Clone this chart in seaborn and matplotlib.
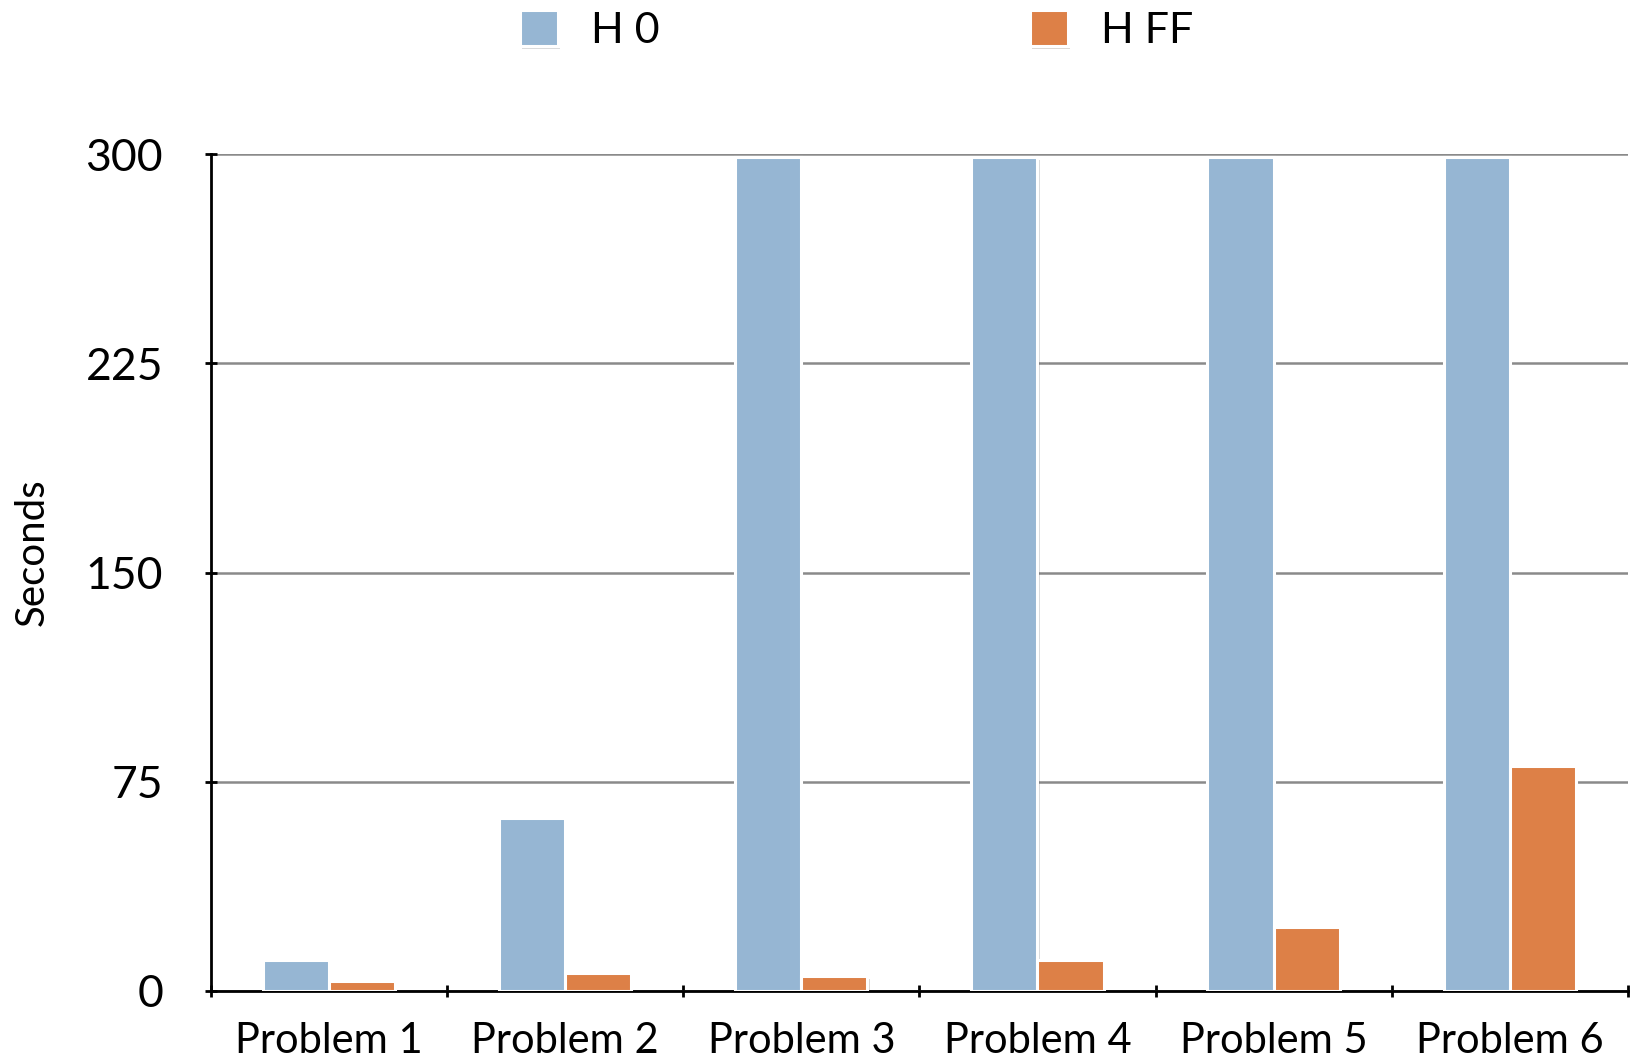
import matplotlib
matplotlib.use("Agg")
import matplotlib.pyplot as plt
import matplotlib.patheffects as pe
from matplotlib.ticker import FixedLocator
import seaborn as sns
import pandas as pd

problems = ["Problem 1", "Problem 2", "Problem 3", "Problem 4", "Problem 5", "Problem 6"]
h0_seconds = [11, 62, 299, 299, 299, 299]
hff_seconds = [3.5, 6.5, 5.5, 11, 23, 80.5]
series_names = ["H 0", "H FF"]
y_ticks = [0, 75, 150, 225, 300]

df = pd.DataFrame({
    "Problem": problems * 2,
    "Series": [series_names[0]] * len(problems) + [series_names[1]] * len(problems),
    "Seconds": h0_seconds + hff_seconds,
})

sns.set_theme(style="white")
plt.rcParams["font.family"] = ["Lato", "DejaVu Sans"]
plt.rcParams["text.color"] = "black"
plt.rcParams["axes.labelcolor"] = "black"
plt.rcParams["xtick.color"] = "black"
plt.rcParams["ytick.color"] = "black"

fig = plt.figure(figsize=(16.31, 10.62), dpi=100)
ax = fig.add_axes([0.1294, 0.0669, 0.8686, 0.788])

palette = {"H 0": "#96B6D3", "H FF": "#DD8047"}
sns.barplot(data=df, x="Problem", y="Seconds", hue="Series", palette=palette,
            width=0.56, edgecolor="white", linewidth=2.2, saturation=1,
            ax=ax, zorder=3)

for bar in ax.patches:
    bar.set_path_effects([pe.SimplePatchShadow(offset=(1.5, -2.5), alpha=0.18),
                          pe.Normal()])

ax.set_ylim(0, 300)
ax.set_xlim(-0.5, len(problems) - 0.5)
ax.set_yticks(y_ticks)
ax.yaxis.grid(True, color="#8a8a8a", linewidth=1.8, zorder=0)
ax.xaxis.grid(False)
ax.set_axisbelow(True)

for side in ["top", "right"]:
    ax.spines[side].set_visible(False)
for side in ["left", "bottom"]:
    ax.spines[side].set_color("black")
    ax.spines[side].set_linewidth(2)

ax.tick_params(axis="y", which="major", direction="inout", length=9, width=2,
               color="black", labelsize=32, pad=30, left=True)
ax.tick_params(axis="x", which="major", length=0, labelsize=30, pad=22)
ax.xaxis.set_minor_locator(FixedLocator([i - 0.5 for i in range(len(problems) + 1)]))
ax.tick_params(axis="x", which="minor", direction="inout", length=9, width=2,
               color="black", bottom=True)

ax.set_xlabel("")
ax.set_ylabel("")
fig.text(0.02, 0.48, "Seconds", rotation=90, fontsize=29,
         ha="center", va="center")

handles, labels = ax.get_legend_handles_labels()
ax.legend(handles, labels, loc="center", bbox_to_anchor=(0.525, 0.972),
          bbox_transform=fig.transFigure, ncol=2, frameon=False,
          fontsize=31, handlelength=0.9, handleheight=0.9,
          handletextpad=0.75, columnspacing=8.6)

fig.savefig("out.png", dpi=100)
